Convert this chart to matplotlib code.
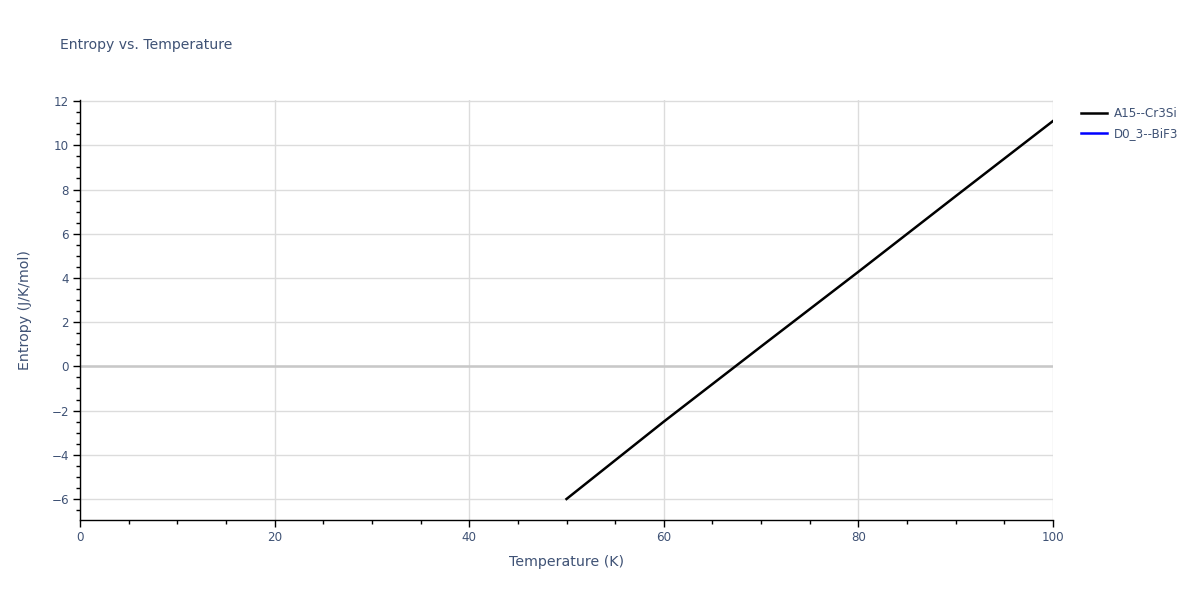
import matplotlib
matplotlib.use("Agg")
import matplotlib.pyplot as plt
from matplotlib.ticker import MultipleLocator

temperature = [50, 60, 70, 80, 90, 100]
entropy_a15 = [-6.0, -2.5, 0.9, 4.28, 7.7, 11.1]
temperature_d03 = []
entropy_d03 = []

series_names = ["A15--Cr3Si", "D0_3--BiF3"]
title = "Entropy vs. Temperature"
xlabel = "Temperature (K)"
ylabel = "Entropy (J/K/mol)"

txt = "#3f5275"
plt.rcParams['font.family'] = ['DejaVu Sans']

fig = plt.figure(figsize=(12, 6), dpi=100)
ax = fig.add_axes([80/1200, 1-520/600, (1053-80)/1200, 420/600])

ax.plot(temperature, entropy_a15, color="black", lw=1.8, label=series_names[0], zorder=3)
ax.plot(temperature_d03, entropy_d03, color="blue", lw=1.8, label=series_names[1], zorder=3)

ax.set_xlim(0, 100)
ax.set_ylim(-6.95, 12.05)

ax.xaxis.set_major_locator(MultipleLocator(20))
ax.xaxis.set_minor_locator(MultipleLocator(5))
ax.yaxis.set_major_locator(MultipleLocator(2))
ax.yaxis.set_minor_locator(MultipleLocator(0.5))

ax.grid(True, which="major", color="#dcdcdc", lw=1)
ax.axhline(0, color="#c8c8c8", lw=1.8, zorder=1)
ax.set_axisbelow(True)

for s in ["top", "right"]:
    ax.spines[s].set_visible(False)
for s in ["left", "bottom"]:
    ax.spines[s].set_color("black")
    ax.spines[s].set_linewidth(1)

ax.tick_params(which="major", direction="out", length=5, width=1, color="black",
               labelsize=8.6, labelcolor=txt, pad=3)
ax.tick_params(which="minor", direction="out", length=3, width=1, color="black")

ax.set_xlabel(xlabel, fontsize=10.2, color=txt, labelpad=8)
ax.set_ylabel(ylabel, fontsize=10.2, color=txt, labelpad=14)

fig.text(60/1200, 1-45/600, title, fontsize=10.1, color=txt, va="center", ha="left")

leg = ax.legend(loc="upper left", bbox_to_anchor=(1074/973 - 80/973, 1.0),
                frameon=False, fontsize=8.6, handlelength=2.2, labelspacing=0.55,
                handletextpad=0.5, borderaxespad=0.2)
for t in leg.get_texts():
    t.set_color(txt)

fig.savefig("out.png", dpi=100)
